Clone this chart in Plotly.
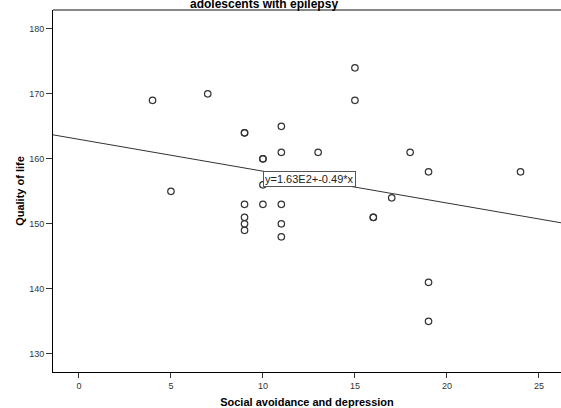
import plotly.graph_objects as go

# Data: social avoidance and depression (x) vs quality of life (y)
social_avoidance = [4, 5, 7, 9, 9, 9, 9, 9, 9, 10, 10, 10, 10, 11, 11, 11, 11, 11,
                    13, 15, 15, 16, 16, 17, 18, 19, 19, 19, 24]
quality_of_life = [169, 155, 170, 164, 164, 153, 151, 150, 149, 160, 160, 156, 153,
                   165, 161, 153, 150, 148, 161, 174, 169, 151, 151, 154, 161, 158,
                   141, 135, 158]

intercept = 163.0
slope = -0.49
x_range = [-1.41, 26.2]
y_range = [127.2, 182.9]
x_ticks = [0, 5, 10, 15, 20, 25]
y_ticks = [130, 140, 150, 160, 170, 180]

FONT = "Liberation Sans, Arial, sans-serif"

fig = go.Figure()
fig.add_trace(go.Scatter(
    x=x_range,
    y=[intercept + slope * v for v in x_range],
    mode="lines",
    line=dict(color="#333333", width=1),
    hoverinfo="skip",
    showlegend=False,
))
fig.add_trace(go.Scatter(
    x=social_avoidance,
    y=quality_of_life,
    mode="markers",
    marker=dict(symbol="circle-open", size=6.5, color="#333333", line=dict(width=1.2)),
    showlegend=False,
))

fig.add_annotation(
    x=10, y=156.9, xref="x", yref="y",
    text="y=1.63E2+-0.49*x",
    showarrow=False, xanchor="left", yanchor="middle",
    font=dict(family=FONT, size=11, color="#222222"),
    bgcolor="white", bordercolor="#555555", borderwidth=1, borderpad=1,
)

fig.add_annotation(
    x=0.415, y=1.0, xref="paper", yref="paper",
    text="<b>adolescents with epilepsy</b>",
    showarrow=False, xanchor="center", yanchor="bottom", yshift=-3,
    font=dict(family=FONT, size=12, color="black"),
)

fig.add_shape(type="line", xref="paper", yref="paper", x0=0, x1=1, y0=1, y1=1,
              line=dict(color="#888888", width=2))

fig.update_layout(
    width=561, height=408,
    margin=dict(l=53, r=0, t=10, b=36),
    paper_bgcolor="white", plot_bgcolor="white",
    font=dict(family=FONT, size=9, color="#333333"),
    xaxis=dict(
        range=x_range, tickvals=x_ticks, ticks="outside", ticklen=5, tickcolor="#333333",
        showgrid=False, zeroline=False, showline=True, linecolor="black", linewidth=1,
        tickfont=dict(family=FONT, size=9, color="#333333"),
        title=dict(text="<b>Social avoidance and depression</b>", standoff=8,
                   font=dict(family=FONT, size=11, color="black")),
    ),
    yaxis=dict(
        range=y_range, tickvals=y_ticks, ticks="outside", ticklen=6, tickcolor="#333333",
        showgrid=False, zeroline=False, showline=True, linecolor="black", linewidth=1,
        tickfont=dict(family=FONT, size=9, color="#333333"),
        title=dict(text="<b>Quality of life</b>", standoff=2,
                   font=dict(family=FONT, size=11, color="black")),
    ),
)

fig.write_html("out.html")
